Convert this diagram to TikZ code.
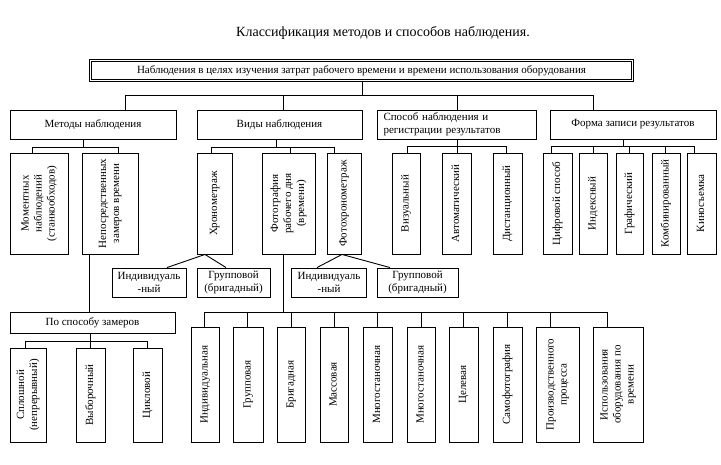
\documentclass[tikz,border=0pt]{standalone}
\usepackage{fontspec}
\usepackage{graphicx}
\setmainfont{Liberation Serif}
\newcommand\bxfont{\fontsize{11}{13}\selectfont}
\newcommand\vtxt[1]{\rotatebox{90}{\begin{tabular}{@{}c@{}}#1\end{tabular}}}
\tikzset{
  bx/.style={draw, line width=0.9pt, inner sep=1pt, font=\bxfont, align=center},
  ln/.style={line width=0.9pt},
}
\begin{document}
\begin{tikzpicture}[x=1pt,y=-1pt]
\useasboundingbox (0,0) rectangle (721,464);
\node[font=\fontsize{14}{16}\selectfont] (title) at (383,33) {Классификация методов и способов наблюдения.};
\node[draw, double, double distance=1.6pt, line width=0.7pt, font=\bxfont, minimum width=542, minimum height=20, inner sep=0] (top) at (361.5,70.5) {Наблюдения в целях изучения затрат рабочего времени и времени использования оборудования};
% level 1
\node[bx, minimum width=166, minimum height=29] (m) at (93,124.5) {Методы наблюдения};
\node[bx, minimum width=165, minimum height=29] (v) at (279.5,124.5) {Виды наблюдения};
\node[bx, minimum width=159, minimum height=29, text width=146, align=left] (s) at (456.5,124.5) {Способ наблюдения и\\регистрации результатов};
\node[bx, minimum width=166, minimum height=29] (f) at (633,124.5) {Форма записи результатов};
% level 2
\node[bx, minimum width=58, minimum height=101] (a1) at (39,203.5) {\vtxt{Моментных\\наблюдений\\(станкообходов)}};
\node[bx, minimum width=56, minimum height=101] (a2) at (110,203.5) {\vtxt{Непосредственных\\замеров времени}};
\node[bx, minimum width=35, minimum height=101] (b1) at (214.5,203.5) {\vtxt{Хронометраж}};
\node[bx, minimum width=53, minimum height=101] (b2) at (288.5,203.5) {\vtxt{Фотография\\рабочего дня\\(времени)}};
\node[bx, minimum width=34, minimum height=101] (b3) at (344,203.5) {\vtxt{Фотохронометраж}};
\node[bx, minimum width=28, minimum height=101] (c1) at (406,203.5) {\vtxt{Визуальный}};
\node[bx, minimum width=29, minimum height=101] (c2) at (456.5,203.5) {\vtxt{Автоматический}};
\node[bx, minimum width=29, minimum height=101] (c3) at (507.5,203.5) {\vtxt{Дистанционный}};
\node[bx, minimum width=29, minimum height=101] (d1) at (557.5,203.5) {\vtxt{Цифровой способ}};
\node[bx, minimum width=28, minimum height=101] (d2) at (593,203.5) {\vtxt{Индексный}};
\node[bx, minimum width=27, minimum height=101] (d3) at (629.5,203.5) {\vtxt{Графический}};
\node[bx, minimum width=28, minimum height=101] (d4) at (666,203.5) {\vtxt{Комбинированный}};
\node[bx, minimum width=29, minimum height=101] (d5) at (701.5,203.5) {\vtxt{Киносъемка}};
% level 3
\node[bx, minimum width=74, minimum height=29] (e1) at (149,282.5) {Индивидуаль\\-ный};
\node[bx, minimum width=73, minimum height=29] (e2) at (233.5,282.5) {Групповой\\(бригадный)};
\node[bx, minimum width=75, minimum height=29] (e3) at (329,282.5) {Индивидуаль\\-ный};
\node[bx, minimum width=81, minimum height=29] (e4) at (417.5,282.5) {Групповой\\(бригадный)};
\node[bx, minimum width=165, minimum height=21] (g) at (92.5,322.5) {По способу замеров};
% bottom left
\node[bx, minimum width=36, minimum height=94] (h1) at (28,395) {\vtxt{Сплошной\\(непрерывный)}};
\node[bx, minimum width=29, minimum height=94] (h2) at (90.5,395) {\vtxt{Выборочный}};
\node[bx, minimum width=29, minimum height=94] (h3) at (147.5,395) {\vtxt{Цикловой}};
% bottom right
\node[bx, minimum width=28, minimum height=115] (k1) at (205,384.5) {\vtxt{Индивидуальная}};
\node[bx, minimum width=30, minimum height=115] (k2) at (248,384.5) {\vtxt{Групповая}};
\node[bx, minimum width=28, minimum height=115] (k3) at (291,384.5) {\vtxt{Бригадная}};
\node[bx, minimum width=28, minimum height=115] (k4) at (334,384.5) {\vtxt{Массовая}};
\node[bx, minimum width=29, minimum height=115] (k5) at (377.5,384.5) {\vtxt{Многостаночная}};
\node[bx, minimum width=28, minimum height=115] (k6) at (421,384.5) {\vtxt{Многостаночная}};
\node[bx, minimum width=29, minimum height=115] (k7) at (463.5,384.5) {\vtxt{Целевая}};
\node[bx, minimum width=29, minimum height=115] (k8) at (507.5,384.5) {\vtxt{Самофотография}};
\node[bx, minimum width=43, minimum height=115] (k9) at (557.5,384.5) {\vtxt{Производственного\\процесса}};
\node[bx, minimum width=50, minimum height=115] (k10) at (618,384.5) {\vtxt{Использования\\оборудования по\\времени}};
% junctions
\coordinate (T0) at (362,95);
\coordinate (Tm) at (125,95); \coordinate (Tv) at (283,95);
\coordinate (Ts) at (457,95); \coordinate (Tf) at (593,95);
\coordinate (M0) at (83,147); \coordinate (Ma) at (32,147); \coordinate (Mb) at (118,147);
\coordinate (V0) at (276,147); \coordinate (Va) at (211,147); \coordinate (Vb) at (290,147); \coordinate (Vc) at (334,147);
\coordinate (S0) at (457,146); \coordinate (Sa) at (407,146); \coordinate (Sc) at (506,146);
\coordinate (F0) at (623,146); \coordinate (Fa) at (551,146); \coordinate (Fb) at (593,146);
\coordinate (Fc) at (629,146); \coordinate (Fd) at (665,146); \coordinate (Fe) at (694,146);
\coordinate (G0) at (90,341); \coordinate (Ga) at (25,341); \coordinate (Gc) at (147,341);
\coordinate (K1) at (204,312); \coordinate (K2) at (247,312); \coordinate (K3) at (291,312);
\coordinate (K4) at (334,312); \coordinate (K5) at (377,312); \coordinate (K6) at (421,312);
\coordinate (K7) at (463,312); \coordinate (K8) at (507,312); \coordinate (K9) at (550,312);
\coordinate (K10) at (607,312);
% connectors
\draw[ln] (top.south -| T0) -- (T0);
\draw[ln] (Tm) -- (Tf);
\draw[ln] (Tm) -- (Tm |- m.north);
\draw[ln] (Tv) -- (Tv |- v.north);
\draw[ln] (Ts) -- (Ts |- s.north);
\draw[ln] (Tf) -- (Tf |- f.north);
\draw[ln] (m.south -| M0) -- (M0);
\draw[ln] (Ma) -- (Mb);
\draw[ln] (Ma) -- (Ma |- a1.north);
\draw[ln] (Mb) -- (Mb |- a2.north);
\draw[ln] (v.south -| V0) -- (V0);
\draw[ln] (Va) -- (Vc);
\draw[ln] (Va) -- (Va |- b1.north);
\draw[ln] (Vb) -- (Vb |- b2.north);
\draw[ln] (Vc) -- (Vc |- b3.north);
\draw[ln] (s.south -| S0) -- (S0);
\draw[ln] (Sa) -- (Sc);
\draw[ln] (Sa) -- (Sa |- c1.north);
\draw[ln] (S0) -- (S0 |- c2.north);
\draw[ln] (Sc) -- (Sc |- c3.north);
\draw[ln] (f.south -| F0) -- (F0);
\draw[ln] (Fa) -- (Fe);
\draw[ln] (Fa) -- (Fa |- d1.north);
\draw[ln] (Fb) -- (Fb |- d2.north);
\draw[ln] (Fc) -- (Fc |- d3.north);
\draw[ln] (Fd) -- (Fd |- d4.north);
\draw[ln] (Fe) -- (Fe |- d5.north);
\draw[ln] ([xshift=18pt]e1.north) -- ([xshift=-9.5pt]b1.south) -- ([xshift=-7.5pt]e2.north);
\draw[ln] ([xshift=-12pt]e3.north) -- ([xshift=-2pt]b3.south) -- ([xshift=-27.5pt]e4.north);
\draw[ln] ([xshift=-21pt]a2.south) -- ([xshift=-21pt]a2.south |- g.north);
\draw[ln] (g.south -| G0) -- (G0);
\draw[ln] (Ga) -- (Gc);
\draw[ln] (Ga) -- (Ga |- h1.north);
\draw[ln] (G0) -- (G0 |- h2.north);
\draw[ln] (Gc) -- (Gc |- h3.north);
\draw[ln] ([xshift=-5.5pt]b2.south) -- ([xshift=-5.5pt]b2.south |- K1);
\draw[ln] (K1) -- (K10);
\draw[ln] (K1) -- (K1 |- k1.north);
\draw[ln] (K2) -- (K2 |- k2.north);
\draw[ln] (K3) -- (K3 |- k3.north);
\draw[ln] (K4) -- (K4 |- k4.north);
\draw[ln] (K5) -- (K5 |- k5.north);
\draw[ln] (K6) -- (K6 |- k6.north);
\draw[ln] (K7) -- (K7 |- k7.north);
\draw[ln] (K8) -- (K8 |- k8.north);
\draw[ln] (K9) -- (K9 |- k9.north);
\draw[ln] (K10) -- (K10 |- k10.north);
\end{tikzpicture}
\end{document}
